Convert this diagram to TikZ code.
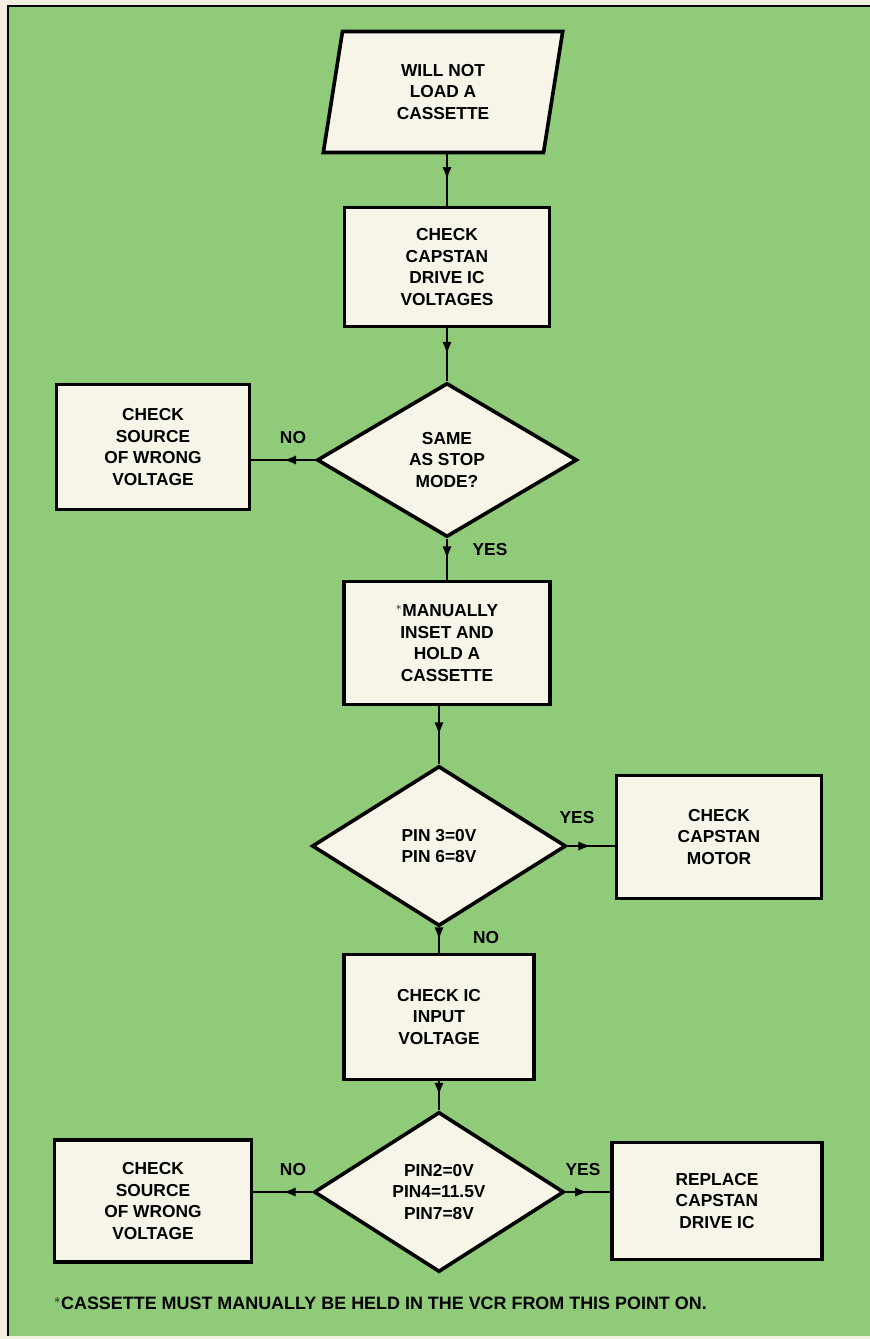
\documentclass[tikz,border=0pt]{standalone}
\usepackage{fontspec}
\setmainfont{Liberation Sans}
\usetikzlibrary{shapes.geometric,arrows.meta,decorations.markings}
\definecolor{chartgreen}{RGB}{143,203,120}
\definecolor{boxcream}{RGB}{247,245,232}
\definecolor{papercream}{RGB}{243,239,224}
\tikzset{
	box/.style={draw, line width=3.1pt, fill=boxcream, align=center, inner sep=0pt, font=\fontsize{14.8}{18.5}\selectfont\bfseries},
	ask/.style={box, diamond},
	tag/.style={font=\fontsize{14.8}{18.5}\selectfont\bfseries},
	flow/.style={line width=2.4pt, postaction={decorate}, decoration={markings, mark=at position 0.5 with {\arrow{Latex[length=11pt,width=8pt]}}}}
}
\begin{document}
\begin{tikzpicture}[x=0.03cm,y=-0.03cm]
						\useasboundingbox (0,0) rectangle (870,1339);
						\fill[papercream] (0,0) rectangle (870,1339);
						\fill[chartgreen] (8,6) rectangle (870,1336);
						\draw[line width=1.6pt] (870,6)--(8,6)--(8,1336);
						
						\node[box, trapezium, trapezium left angle=81, trapezium right angle=99, minimum width=6.75cm, minimum height=3.63cm] (start) at (443,92) {WILL NOT\\LOAD A\\CASSETTE};
						\node[box, minimum width=6.15cm, minimum height=3.57cm] (drive) at (447,267) {CHECK\\CAPSTAN\\DRIVE IC\\VOLTAGES};
						\node[ask, minimum width=7.8cm, minimum height=4.62cm] (stop) at (447,460) {SAME\\AS STOP\\MODE?};
						\node[box, minimum width=5.79cm, minimum height=3.75cm] (source1) at (153,447) {CHECK\\SOURCE\\OF WRONG\\VOLTAGE};
						\node[box, minimum width=6.18cm, minimum height=3.69cm] (hold) at (447,643) {$^{\ast}$MANUALLY\\INSET AND\\HOLD A\\CASSETTE};
						\node[ask, minimum width=7.62cm, minimum height=4.8cm] (pins1) at (439,846) {PIN 3=0V\\PIN 6=8V};
						\node[box, minimum width=6.15cm, minimum height=3.69cm] (motor) at (719,837) {CHECK\\CAPSTAN\\MOTOR};
						\node[box, minimum width=5.7cm, minimum height=3.75cm] (input) at (439,1017) {CHECK IC\\INPUT\\VOLTAGE};
						\node[ask, minimum width=7.5cm, minimum height=4.8cm] (pins2) at (439,1192) {PIN2=0V\\PIN4=11.5V\\PIN7=8V};
						\node[box, minimum width=5.91cm, minimum height=3.66cm] (source2) at (153,1201) {CHECK\\SOURCE\\OF WRONG\\VOLTAGE};
						\node[box, minimum width=6.3cm, minimum height=3.51cm] (replace) at (717,1201) {REPLACE\\CAPSTAN\\DRIVE IC};
						
						\draw[flow] (start.south -| drive.north) -- (drive.north);
						\draw[flow] (drive.south) -- (stop.north);
						\draw[flow] (stop.west) -- (stop.west -| source1.east);
						\draw[flow] (stop.south) -- (hold.north);
						\draw[flow] (pins1.north |- hold.south) -- (pins1.north);
						\draw[flow] (pins1.east) -- (pins1.east -| motor.west);
						\draw[flow] (pins1.south) -- (input.north);
						\draw[flow] (input.south) -- (pins2.north);
						\draw[flow] (pins2.west) -- (pins2.west -| source2.east);
						\draw[flow] (pins2.east) -- (pins2.east -| replace.west);
						
						\node[tag] (no1) at (293,438) {NO};
						\node[tag] (yes1) at (490,550) {YES};
						\node[tag] (yes2) at (577,818) {YES};
						\node[tag] (no2) at (486,938) {NO};
						\node[tag] (no3) at (293,1170) {NO};
						\node[tag] (yes3) at (583,1170) {YES};
						\node[tag, anchor=west, font=\fontsize{15.3}{18}\selectfont\bfseries] (note) at (50,1303) {$^{\ast}$CASSETTE MUST MANUALLY BE HELD IN THE VCR FROM THIS POINT ON.};
					\end{tikzpicture}
\end{document}
